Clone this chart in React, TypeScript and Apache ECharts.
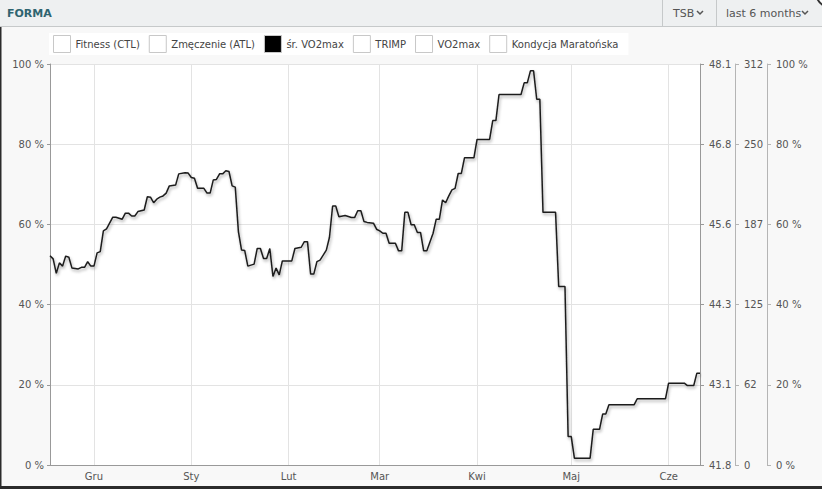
import React, { useEffect, useRef } from 'react';
import * as echarts from 'echarts';

// ---- data ----
const START_DATE = '2023-11-17';
const END_DATE = '2024-06-11';
const monthNames = ['Sty', 'Lut', 'Mar', 'Kwi', 'Maj', 'Cze', 'Lip', 'Sie', 'Wrz', 'Paź', 'Lis', 'Gru'];
const legendNames = ['Fitness (CTL)', 'Zmęczenie (ATL)', 'śr. VO2max', 'TRIMP', 'VO2max', 'Kondycja Maratońska'];
const activeSeries = 'śr. VO2max';

const vo2Dates = [
  '2023-11-17', '2023-11-18', '2023-11-19', '2023-11-20', '2023-11-21', '2023-11-22', '2023-11-23', '2023-11-24',
  '2023-11-26', '2023-11-27', '2023-11-28', '2023-11-29', '2023-11-30',
  '2023-12-01', '2023-12-02', '2023-12-03', '2023-12-04', '2023-12-05', '2023-12-07', '2023-12-08', '2023-12-10',
  '2023-12-11', '2023-12-12', '2023-12-13', '2023-12-14', '2023-12-15', '2023-12-17', '2023-12-18', '2023-12-19',
  '2023-12-20', '2023-12-21', '2023-12-22', '2023-12-23', '2023-12-24', '2023-12-25', '2023-12-27', '2023-12-28',
  '2023-12-30', '2023-12-31',
  '2024-01-01', '2024-01-02', '2024-01-03', '2024-01-05', '2024-01-06', '2024-01-07', '2024-01-08', '2024-01-09',
  '2024-01-10', '2024-01-11', '2024-01-12', '2024-01-13', '2024-01-14', '2024-01-15', '2024-01-16', '2024-01-17',
  '2024-01-18', '2024-01-19', '2024-01-21', '2024-01-22', '2024-01-23', '2024-01-24', '2024-01-25', '2024-01-26',
  '2024-01-27', '2024-01-28', '2024-01-29', '2024-01-30',
  '2024-02-02', '2024-02-03', '2024-02-05', '2024-02-06', '2024-02-07', '2024-02-08', '2024-02-09', '2024-02-10',
  '2024-02-11', '2024-02-13', '2024-02-14', '2024-02-15', '2024-02-16', '2024-02-17', '2024-02-19', '2024-02-21',
  '2024-02-22', '2024-02-23', '2024-02-24', '2024-02-25', '2024-02-26', '2024-02-28', '2024-02-29',
  '2024-03-01', '2024-03-02', '2024-03-03', '2024-03-04', '2024-03-06', '2024-03-07', '2024-03-08', '2024-03-09',
  '2024-03-10', '2024-03-11', '2024-03-12', '2024-03-13', '2024-03-14', '2024-03-15', '2024-03-16', '2024-03-18',
  '2024-03-19', '2024-03-20', '2024-03-21', '2024-03-22', '2024-03-23', '2024-03-24', '2024-03-25', '2024-03-26',
  '2024-03-27', '2024-03-28', '2024-03-31',
  '2024-04-01', '2024-04-05', '2024-04-06', '2024-04-07', '2024-04-08', '2024-04-15', '2024-04-16', '2024-04-17',
  '2024-04-18', '2024-04-19', '2024-04-20', '2024-04-21', '2024-04-22', '2024-04-26', '2024-04-27', '2024-04-29',
  '2024-04-30',
  '2024-05-01', '2024-05-02', '2024-05-07', '2024-05-08', '2024-05-10', '2024-05-11', '2024-05-12', '2024-05-13',
  '2024-05-21', '2024-05-22', '2024-05-31',
  '2024-06-01', '2024-06-06', '2024-06-07', '2024-06-09', '2024-06-10', '2024-06-11',
];

const vo2Pct = [
  52.2, 51.4, 47.8, 50.4, 49.6, 52.1, 51.8, 49.1,
  48.9, 49.3, 49.3, 50.7, 49.6,
  49.6, 52.9, 53.2, 58.4, 58.9, 61.8, 61.8, 61.3,
  62.8, 62.8, 62.1, 62.1, 63.2, 63.6, 66.9, 66.8,
  65.4, 66.3, 66.8, 67.1, 67.8, 69.6, 69.8, 72.6,
  72.9, 72.8,
  71.7, 71.5, 69.0, 69.0, 67.8, 67.8, 71.1, 71.2,
  72.6, 72.6, 73.4, 73.2, 69.6, 69.3, 58.2, 53.6,
  53.5, 49.6, 50.1, 54.0, 54.0, 51.5, 51.5, 54.0,
  47.0, 49.1, 47.4, 50.9,
  50.9, 54.0, 54.3, 55.7, 55.7, 47.6, 47.6, 50.7,
  51.1, 53.6, 56.8, 64.6, 64.6, 61.9, 62.2, 61.7,
  61.7, 63.4, 63.4, 60.7, 60.5, 60.3, 58.8,
  58.4, 57.8, 57.8, 55.3, 55.3, 53.4, 53.4, 63.0,
  63.0, 59.9, 59.9, 58.0, 58.0, 53.4, 53.4, 57.8,
  61.3, 61.3, 66.1, 65.4, 67.1, 68.6, 69.0, 72.7,
  72.7, 76.6, 76.6,
  81.2, 81.2, 85.9, 85.9, 92.4, 92.4, 95.3, 95.3,
  98.3, 98.3, 91.2, 91.2, 63.0, 63.0, 44.5, 44.5,
  7.1,
  7.1, 1.7, 1.7, 8.9, 8.9, 12.7, 12.7, 15.0,
  15.0, 16.5, 16.5,
  20.4, 20.4, 19.8, 19.8, 22.9, 22.9,
];

const vo2maxScaleMin = 41.8;
const vo2maxScaleMax = 48.1;
const trimpScaleMax = 312;

// ---- helpers ----
function dayList(start: string, end: string): string[] {
  const out: string[] = [];
  const [ys, ms, ds] = start.split('-').map(Number);
  const [ye, me, de] = end.split('-').map(Number);
  let t = Date.UTC(ys, ms - 1, ds);
  const tEnd = Date.UTC(ye, me - 1, de);
  while (t <= tEnd) {
    const d = new Date(t);
    const s =
      d.getUTCFullYear() +
      '-' + String(d.getUTCMonth() + 1).padStart(2, '0') +
      '-' + String(d.getUTCDate()).padStart(2, '0');
    out.push(s);
    t += 86400000;
  }
  return out;
}

const FONT = 'DejaVu Sans';

export default function App() {
  const ref = useRef<HTMLDivElement>(null);

  useEffect(() => {
    if (!ref.current) return;
    const chart = echarts.init(ref.current, undefined, { renderer: 'svg' });
    const days = dayList(START_DATE, END_DATE);
    const isMonthStart = (_i: number, v: string) => typeof v === 'string' && v.slice(8, 10) === '01';

    const gridLine = { lineStyle: { color: '#e3e3e3', width: 1 } };

    const rightAxis = (offset: number, lineColor: string, fmt: (v: number) => string) => ({
      type: 'value',
      position: 'right',
      offset,
      min: 0,
      max: 100,
      interval: 20,
      axisLine: { show: true, lineStyle: { color: lineColor } },
      axisTick: { show: true, length: 4, lineStyle: { color: lineColor } },
      axisLabel: { formatter: fmt, color: '#555', fontSize: 10, fontFamily: FONT, margin: 9 },
      splitLine: { show: false },
    });

    chart.setOption({
      animation: false,
      backgroundColor: '#f8f8f8',
      textStyle: { fontFamily: FONT },
      grid: { left: 50, right: 122, top: 64, bottom: 24, show: true, backgroundColor: '#ffffff', borderWidth: 0 },
      legend: {
        left: 49,
        top: 33,
        padding: [2, 10, 2, 4],
        backgroundColor: '#ffffff',
        itemWidth: 17,
        itemHeight: 17,
        itemGap: 9,
        icon: 'rect',
        selectedMode: false,
        textStyle: { fontSize: 10, color: '#444', fontFamily: FONT },
        data: legendNames.map((n) => ({
          name: n,
          itemStyle: {
            color: n === activeSeries ? '#000000' : '#ffffff',
            borderColor: '#c8c8c8',
            borderWidth: 1,
          },
        })),
      },
      xAxis: {
        type: 'category',
        data: days,
        boundaryGap: false,
        axisLine: { show: true, lineStyle: { color: '#999' } },
        axisTick: { show: false, interval: isMonthStart },
        axisLabel: {
          interval: isMonthStart,
          formatter: (v: string) => monthNames[Number(v.slice(5, 7)) - 1],
          color: '#555',
          fontSize: 10,
          fontFamily: FONT,
          margin: 6,
        },
        splitLine: { show: true, interval: isMonthStart, ...gridLine },
      },
      yAxis: [
        {
          type: 'value',
          position: 'left',
          min: 0,
          max: 100,
          interval: 20,
          axisLine: { show: true, lineStyle: { color: '#999' } },
          axisTick: { show: true, length: 3, lineStyle: { color: '#999' } },
          axisLabel: { formatter: '{value} %', color: '#555', fontSize: 10, fontFamily: FONT, margin: 6 },
          splitLine: { show: true, ...gridLine },
        },
        rightAxis(0, '#999', (v: number) =>
          (vo2maxScaleMin + ((vo2maxScaleMax - vo2maxScaleMin) * v) / 100).toFixed(1)
        ),
        rightAxis(35, '#b5b5b5', (v: number) => String(Math.round((trimpScaleMax * v) / 100))),
        rightAxis(67, '#b5b5b5', (v: number) => v + ' %'),
      ],
      series: [
        ...legendNames
          .filter((n) => n !== activeSeries)
          .map((n) => ({ name: n, type: 'line', data: [], showSymbol: false })),
        {
          name: activeSeries,
          type: 'line',
          yAxisIndex: 0,
          data: vo2Dates.map((d, i) => [d, vo2Pct[i]]),
          showSymbol: false,
          symbol: 'none',
          z: 5,
          itemStyle: { color: '#000' },
          lineStyle: {
            color: '#1c1c1c',
            width: 1.5,
            shadowColor: 'rgba(0,0,0,0.35)',
            shadowBlur: 3,
            shadowOffsetX: 1,
            shadowOffsetY: 2,
          },
        },
      ],
      graphic: [
        { type: 'rect', shape: { x: 0, y: 0, width: 822, height: 26 }, style: { fill: '#eef0f1' }, silent: true },
        { type: 'line', shape: { x1: 0, y1: 26.5, x2: 822, y2: 26.5 }, style: { stroke: '#c6c9ca', lineWidth: 1 } },
        { type: 'line', shape: { x1: 662.5, y1: 0, x2: 662.5, y2: 26 }, style: { stroke: '#c6c9ca', lineWidth: 1 } },
        { type: 'line', shape: { x1: 716.5, y1: 0, x2: 716.5, y2: 26 }, style: { stroke: '#c6c9ca', lineWidth: 1 } },
        {
          type: 'text',
          x: 7,
          y: 13,
          style: {
            text: 'FORMA',
            fill: '#2f6470',
            font: 'bold 11px "DejaVu Sans"',
            textVerticalAlign: 'middle',
            verticalAlign: 'middle',
          },
        },
        {
          type: 'text',
          x: 673,
          y: 13,
          style: { text: 'TSB', fill: '#555', font: '11px "DejaVu Sans"', verticalAlign: 'middle' },
        },
        {
          type: 'polyline',
          shape: { points: [[697, 11], [700, 14], [703, 11]] },
          style: { stroke: '#555', lineWidth: 1.5, fill: 'none' },
        },
        {
          type: 'text',
          x: 726,
          y: 13,
          style: { text: 'last 6 months', fill: '#555', font: '11px "DejaVu Sans"', verticalAlign: 'middle' },
        },
        {
          type: 'polyline',
          shape: { points: [[802, 11], [805, 14], [808, 11]] },
          style: { stroke: '#555', lineWidth: 1.5, fill: 'none' },
        },
        {
          type: 'circle',
          shape: { cx: 832, cy: -8, r: 16 },
          style: { fill: '#ffffff', stroke: '#333', lineWidth: 2 },
        },
        { type: 'rect', shape: { x: 0, y: 27, width: 1.5, height: 462 }, style: { fill: '#2b2b2b' } },
        { type: 'rect', shape: { x: 0, y: 486, width: 822, height: 3 }, style: { fill: '#2b2b2b' } },
      ],
    });

    return () => chart.dispose();
  }, []);

  return (
    <div
      ref={ref}
      style={{ position: 'absolute', left: 0, top: 0, width: 822, height: 489 }}
    />
  );
}
